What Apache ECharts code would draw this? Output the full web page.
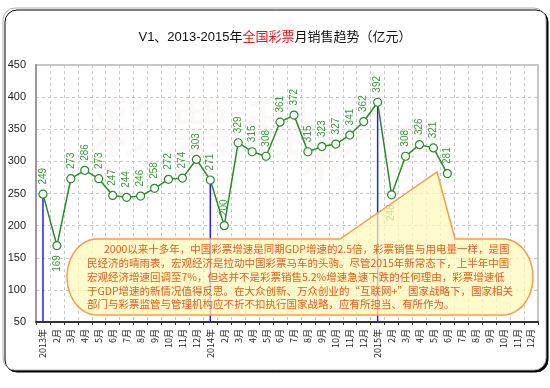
<!DOCTYPE html>
<html><head><meta charset="utf-8">
<script src="https://cdn.jsdelivr.net/npm/echarts@6/dist/echarts.min.js"></script>
<style>html,body{margin:0;padding:0;background:#fff}#c{width:550px;height:388px}</style>
</head><body><div id="c"></div>
<script>
const categories = ['2013年','2月','3月','4月','5月','6月','7月','8月','9月','10月','11月','12月',
  '2014年','2月','3月','4月','5月','6月','7月','8月','9月','10月','11月','12月',
  '2015年','2月','3月','4月','5月','6月','7月','8月','9月','10月','11月','12月'];
const sales = [249,169,273,286,273,247,244,246,258,272,274,303,
  271,200,329,315,308,361,372,315,323,327,341,362,
  392,248,308,326,321,281,null,null,null,null,null,null];
const yearStart = [249,null,null,null,null,null,null,null,null,null,null,null,
  271,null,null,null,null,null,null,null,null,null,null,null,
  392,null,null,null,null,null,null,null,null,null,null,null];
const labelBelowIdx = [1, 25];
const yTicks = {min: 50, max: 450, interval: 50};
const calloutLines = [
  '2000以来十多年，中国彩票增速是同期GDP增速的2.5倍，彩票销售与用电量一样，是国',
  '民经济的晴雨表，宏观经济是拉动中国彩票马车的头驹。尽管2015年新常态下，上半年中国',
  '宏观经济增速回调至7%，但这并不是彩票销售5.2%增速急速下跌的任何理由，彩票增速低',
  '于GDP增速的新情况值得反思。在大众创新、万众创业的“互联网+”国家战略下，国家相关',
  '部门与彩票监管与管理机构应不折不扣执行国家战略，应有所担当、有所作为。'
];

const FONT = '"Liberation Sans", "Noto Sans CJK SC", sans-serif';
const CJK = '"Noto Sans CJK SC", "Liberation Sans", sans-serif';
const chart = echarts.init(document.getElementById('c'), null, {renderer: 'canvas'});

const lineData = sales.map((v, i) => labelBelowIdx.includes(i)
  ? {value: v, label: {position: 'bottom', align: 'right'}} : v);

// callout outline (decorative shape)
function calloutPoints() {
  const pts = [[97, 239], [340, 239], [437, 172], [455, 239], [503, 239]];
  const cy = 277, rx = 30, ry = 38;
  for (let k = 1; k < 24; k++) {
    const a = -Math.PI / 2 + Math.PI * k / 24;
    pts.push([503 + rx * Math.cos(a), cy + ry * Math.sin(a)]);
  }
  pts.push([503, 315], [97, 315]);
  for (let k = 1; k < 24; k++) {
    const a = Math.PI / 2 + Math.PI * k / 24;
    pts.push([97 + rx * Math.cos(a), cy + ry * Math.sin(a)]);
  }
  return pts;
}

const textEls = calloutLines.map((t, i) => ({
  type: 'text', z: 110,
  x: i === 0 ? 104 : 87, y: 244 + i * 13.8,
  style: {text: t, fill: '#EE5A18', font: '10.5px ' + CJK, textVerticalAlign: 'top'}
}));

chart.setOption({
  animation: false,
  backgroundColor: '#fff',
  title: {
    text: 'V1、2013-2015年{r|全国彩票}月销售趋势（亿元）',
    left: 'center', top: 26,
    textStyle: {fontSize: 13, fontWeight: 'normal', color: '#111', fontFamily: FONT,
      rich: {r: {fontSize: 13, color: '#ee1111', fontFamily: FONT}}}
  },
  grid: {left: 36, right: 12, top: 65, bottom: 66, show: true, borderColor: '#c8c8c8', borderWidth: 2},
  xAxis: {
    type: 'category', data: categories, boundaryGap: true,
    axisLine: {lineStyle: {color: '#333', width: 2}},
    axisTick: {show: true, length: 3, lineStyle: {color: '#333'}},
    axisLabel: {rotate: 90, fontSize: 9, color: '#222', margin: 7, interval: 0, fontFamily: CJK},
    splitLine: {show: true, lineStyle: {color: '#c8c8c8', type: [3, 3]}}
  },
  yAxis: {
    type: 'value', min: yTicks.min, max: yTicks.max, interval: yTicks.interval,
    axisLine: {show: true, lineStyle: {color: '#999', width: 2}},
    axisTick: {show: false},
    axisLabel: {fontSize: 11, color: '#222', margin: 10, fontFamily: FONT},
    splitLine: {show: true, lineStyle: {color: '#c8c8c8', type: [3, 3]}}
  },
  series: [
    {type: 'bar', data: yearStart, barWidth: 1.5, itemStyle: {color: '#2222ee'}, z: 1, silent: true},
    {type: 'line', data: lineData, z: 3,
      lineStyle: {color: '#2a8a2a', width: 1.5},
      symbol: 'circle', symbolSize: 8,
      itemStyle: {color: '#fff', borderColor: '#2a8a2a', borderWidth: 1.2},
      label: {show: true, position: 'top', rotate: 90, align: 'left', verticalAlign: 'middle',
        distance: 5, fontSize: 10, color: '#3a9a3a', fontFamily: FONT}
    }
  ],
  graphic: [
    {type: 'rect', z: -10, shape: {x: 3, y: 8, width: 543, height: 362, r: 12},
      style: {fill: '#fff', stroke: '#b0b0b0', lineWidth: 1, shadowColor: '#000', shadowOffsetX: 2, shadowOffsetY: 2, shadowBlur: 0}},
    {type: 'text', z: -5, x: 90, y: 95, style: {text: '彩 票 程', fill: 'rgba(215,150,150,0.07)', font: '64px ' + CJK, textVerticalAlign: 'top'}},
    {type: 'text', z: -5, x: 300, y: 120, style: {text: '彩 票', fill: 'rgba(215,150,150,0.07)', font: '64px ' + CJK, textVerticalAlign: 'top'}},
    {type: 'polygon', z: 100, shape: {points: calloutPoints()},
      style: {fill: 'rgba(255,250,185,0.72)', stroke: '#FF9A4A', lineWidth: 1.5}}
  ].concat(textEls)
});
</script></body></html>
